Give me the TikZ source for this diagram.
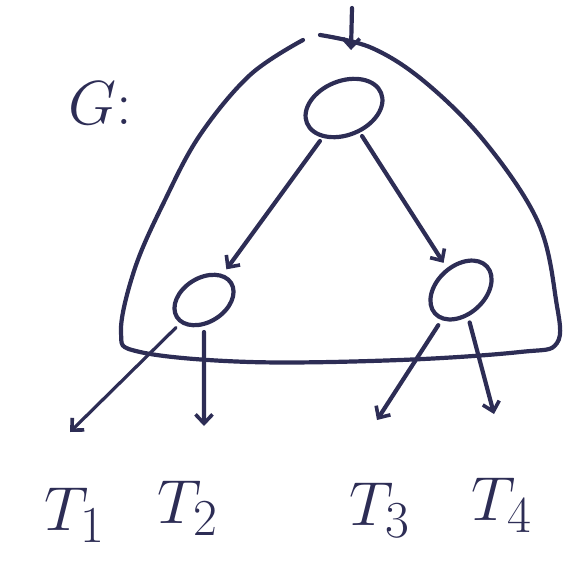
\documentclass[tikz,border=0pt]{standalone}
\usetikzlibrary{arrows.meta,shapes.geometric}
\definecolor{ink}{RGB}{45,45,85}
\begin{document}
\begin{tikzpicture}[x=1pt,y=-1pt,
  pen/.style={draw=ink,line width=4.2pt,line cap=round,line join=round},
  vert/.style={pen,ellipse,minimum width=68pt,minimum height=46pt,inner sep=0pt},
  edge/.style={pen,-{Straight Barb[length=9pt,width=17pt,line width=3.6pt]}},
  lab/.style={text=ink,font=\Huge,scale=2.5}]
\useasboundingbox (0,0) rectangle (575,573);
% outer region G
\draw[pen] plot[smooth,tension=0.6] coordinates {(303,40) (250,75) (200,135) (165,200) (135,268) (121,332) (140,352) (250,362) (400,360) (520,352) (557,343) (556,300) (538,222) (485,142) (425,82) (372,48) (320,35)};
% vertices
\node[vert,rotate=22,minimum width=80pt,minimum height=54pt] (r) at (344,108) {};
\node[vert,rotate=32,minimum width=64pt,minimum height=44pt] (a) at (204,300) {};
\node[vert,rotate=42,minimum width=70pt,minimum height=48pt] (b) at (461,290) {};
% entry arrow
\coordinate (in) at (352,8);
\draw[edge] (in) -- (351,50);
% edges
\draw[edge,shorten <=4pt,shorten >=6pt] (r) -- (a);
\draw[edge,shorten <=4pt,shorten >=6pt] (r) -- (b);
% outgoing
\coordinate (t1) at (70,432);
\coordinate (t2) at (204,426);
\coordinate (t3) at (377,420);
\coordinate (t4) at (494,414);
\draw[edge,line width=3.2pt,shorten <=6pt] (a) -- (t1);
\draw[edge,shorten <=6pt] (a) -- (t2);
\draw[edge,shorten <=6pt] (b) -- (t3);
\draw[edge,shorten <=6pt] (b) -- (t4);
% labels
\node[lab] (g) at (100,103) {$G\mathbf{:}$};
\node[lab] (l1) at (75,515) {$T_1$};
\node[lab] (l2) at (188,508) {$T_2$};
\node[lab] (l3) at (380,510) {$T_3$};
\node[lab] (l4) at (502,505) {$T_4$};
\end{tikzpicture}
\end{document}
